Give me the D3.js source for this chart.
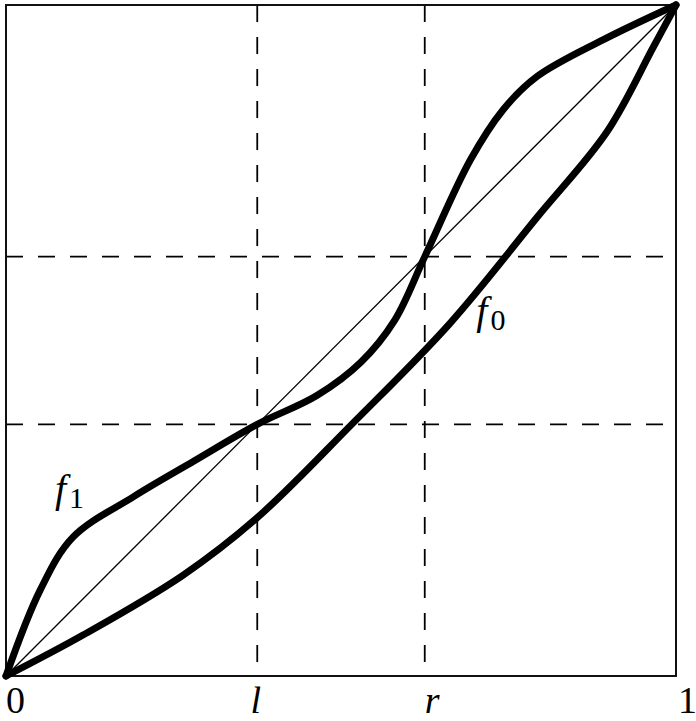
<!DOCTYPE html>
<html><head><meta charset="utf-8">
<script src="https://cdn.jsdelivr.net/npm/d3@7"></script>
<style>html,body{margin:0;padding:0;background:#fff;}
svg text{font-family:"Liberation Serif","Times New Roman","DejaVu Serif",serif;}</style>
</head><body>
<script>
const L = 0.375, R = 0.625;
const tickValues = [0, L, R, 1];
const tickLabels = ["0", "l", "r", "1"];
const tickItalic = [false, true, true, false];
const tickDx = [9, -2, 7, 11];

const f0X = [0, 0.115, 0.264, 0.375, 0.516, 0.663, 0.793, 0.897, 0.966, 1];
const f0Y = [0, 0.061, 0.150, 0.236, 0.375, 0.526, 0.684, 0.811, 0.937, 1];

const f1X = [0, 0.051, 0.100, 0.190, 0.280, 0.375, 0.464, 0.530, 0.580, 0.625, 0.693, 0.742, 0.792, 0.891, 1];
const f1Y = [0, 0.128, 0.207, 0.267, 0.320, 0.375, 0.418, 0.468, 0.530, 0.625, 0.769, 0.844, 0.893, 0.948, 1];

const W = 696, H = 721;
const svg = d3.select("body").append("svg").attr("width", W).attr("height", H);
const x = d3.scaleLinear().domain([0, 1]).range([6, 676]);
const y = d3.scaleLinear().domain([0, 1]).range([676, 5]);

// dashed guides
const dash = "17,15";
[L, R].forEach(v => {
  svg.append("line").attr("x1", x(v)).attr("x2", x(v)).attr("y1", y(1)).attr("y2", y(0))
    .attr("stroke", "#000").attr("stroke-width", 1.8).attr("stroke-dasharray", dash);
  svg.append("line").attr("x1", x(0)).attr("x2", x(1)).attr("y1", y(v)).attr("y2", y(v))
    .attr("stroke", "#000").attr("stroke-width", 1.8).attr("stroke-dasharray", dash);
});

// frame
svg.append("rect").attr("x", x(0)).attr("y", y(1)).attr("width", x(1) - x(0)).attr("height", y(0) - y(1))
  .attr("fill", "none").attr("stroke", "#111").attr("stroke-width", 2);

// diagonal
svg.append("line").attr("x1", x(0)).attr("y1", y(0)).attr("x2", x(1)).attr("y2", y(1))
  .attr("stroke", "#000").attr("stroke-width", 1.3);

const line = d3.line().x(d => x(d[0])).y(d => y(d[1])).curve(d3.curveCatmullRom.alpha(0.5));
const f0 = f0X.map((v, i) => [v, f0Y[i]]);
const f1 = f1X.map((v, i) => [v, f1Y[i]]);
[f0, f1].forEach(data => {
  svg.append("path").attr("d", line(data)).attr("fill", "none").attr("stroke", "#000")
    .attr("stroke-width", 7).attr("stroke-linejoin", "round").attr("stroke-linecap", "round");
});

// axis labels
const ax = svg.append("g").attr("transform", `translate(0,${y(0)})`)
  .call(d3.axisBottom(x).tickValues(tickValues).tickSize(0).tickFormat((d, i) => tickLabels[i]));
ax.attr("font-family", null);
ax.select(".domain").remove();
ax.selectAll("text")
  .attr("font-size", 38)
  .attr("fill", "#000")
  .attr("dy", null)
  .attr("y", 37)
  .attr("dx", (d, i) => tickDx[i])
  .attr("font-style", (d, i) => tickItalic[i] ? "italic" : "normal");

// curve labels
function flabel(px, py, sub) {
  const t = svg.append("text").attr("x", px).attr("y", py)
    .attr("font-size", 40).attr("fill", "#000");
  t.append("tspan").attr("font-style", "italic").text("f");
  t.append("tspan").attr("font-size", 30).attr("dy", 6).attr("dx", 3).text(sub);
}
flabel(x(0.073), y(0.26), "1");
flabel(x(0.702), y(0.525), "0");
</script>
</body></html>
